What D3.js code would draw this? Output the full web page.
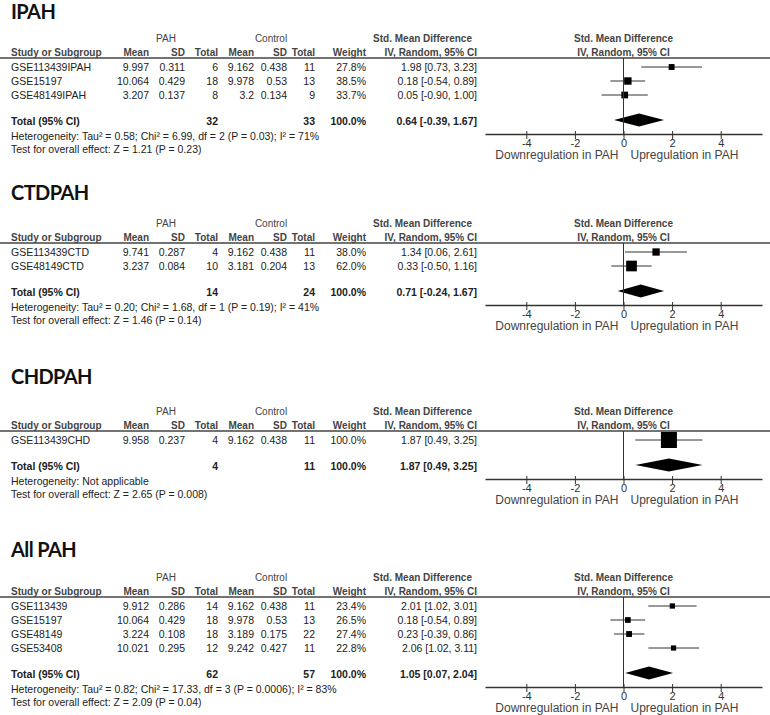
<!DOCTYPE html>
<html>
<head>
<meta charset="utf-8">
<script src="https://cdn.jsdelivr.net/npm/d3@7"></script>
<style>
  body { margin: 0; background: #fff; }
  text { font-family: "Liberation Sans", Arial, sans-serif; font-size: 10.5px; fill: #222; }
  .title { font-family: Lato, "Open Sans", sans-serif; font-weight: bold; font-size: 20px; letter-spacing: -0.6px; fill: #111; }
  .head { font-size: 10px; fill: #444; }
  .bold { font-weight: bold; }
</style>
</head>
<body>
<script>
// study rows: name, PAH mean, SD, n, control mean, SD, n, weight %, SMD, lower, upper
var ipahRows = [
  ["GSE113439IPAH", 9.997, 0.311, 6, 9.162, 0.438, 11, 27.8, 1.98, 0.73, 3.23],
  ["GSE15197", 10.064, 0.429, 18, 9.978, 0.53, 13, 38.5, 0.18, -0.54, 0.89],
  ["GSE48149IPAH", 3.207, 0.137, 8, 3.2, 0.134, 9, 33.7, 0.05, -0.90, 1.00]
];
var ctdRows = [
  ["GSE113439CTD", 9.741, 0.287, 4, 9.162, 0.438, 11, 38.0, 1.34, 0.06, 2.61],
  ["GSE48149CTD", 3.237, 0.084, 10, 3.181, 0.204, 13, 62.0, 0.33, -0.50, 1.16]
];
var chdRows = [
  ["GSE113439CHD", 9.958, 0.237, 4, 9.162, 0.438, 11, 100.0, 1.87, 0.49, 3.25]
];
var allRows = [
  ["GSE113439", 9.912, 0.286, 14, 9.162, 0.438, 11, 23.4, 2.01, 1.02, 3.01],
  ["GSE15197", 10.064, 0.429, 18, 9.978, 0.53, 13, 26.5, 0.18, -0.54, 0.89],
  ["GSE48149", 3.224, 0.108, 18, 3.189, 0.175, 22, 27.4, 0.23, -0.39, 0.86],
  ["GSE53408", 10.021, 0.295, 12, 9.242, 0.427, 11, 22.8, 2.06, 1.02, 3.11]
];

// totals: PAH n, control n, weight, SMD, lower, upper
var ipahTotal = [32, 33, 100.0, 0.64, -0.39, 1.67];
var ctdTotal = [14, 24, 100.0, 0.71, -0.24, 1.67];
var chdTotal = [4, 11, 100.0, 1.87, 0.49, 3.25];
var allTotal = [62, 57, 100.0, 1.05, 0.07, 2.04];

var ipahNotes = ["Heterogeneity: Tau\u00b2 = 0.58; Chi\u00b2 = 6.99, df = 2 (P = 0.03); I\u00b2 = 71%",
                 "Test for overall effect: Z = 1.21 (P = 0.23)"];
var ctdNotes = ["Heterogeneity: Tau\u00b2 = 0.20; Chi\u00b2 = 1.68, df = 1 (P = 0.19); I\u00b2 = 41%",
                "Test for overall effect: Z = 1.46 (P = 0.14)"];
var chdNotes = ["Heterogeneity: Not applicable",
                "Test for overall effect: Z = 2.65 (P = 0.008)"];
var allNotes = ["Heterogeneity: Tau\u00b2 = 0.82; Chi\u00b2 = 17.33, df = 3 (P = 0.0006); I\u00b2 = 83%",
                "Test for overall effect: Z = 2.09 (P = 0.04)"];

var panelTitles = ["IPAH", "CTDPAH", "CHDPAH", "All PAH"];
var tickValues = [-4, -2, 0, 2, 4];
var leftLabel = "Downregulation in PAH";
var rightLabel = "Upregulation in PAH";

var panels = [
  { title: panelTitles[0], rows: ipahRows, total: ipahTotal, notes: ipahNotes },
  { title: panelTitles[1], rows: ctdRows, total: ctdTotal, notes: ctdNotes },
  { title: panelTitles[2], rows: chdRows, total: chdTotal, notes: chdNotes },
  { title: panelTitles[3], rows: allRows, total: allTotal, notes: allNotes }
];

var svg = d3.select("body")
  .append("svg")
  .attr("width", 770)
  .attr("height", 715);

// forest plot scale
var x = d3.scaleLinear().domain([-5.7, 5.7]).range([485, 762]);
var boxSize = d3.scaleLinear().domain([0, 100]).range([2, 16]);

// layout of each panel (header rule and title baseline)
var ruleY = [58, 243, 431, 597];
var titleY = [19, 200, 384, 557];

// right edges of table columns
var colX = [149, 185, 218, 254, 287, 315, 366];
var ciX = 477;

function ci(m, lo, hi) {
  return m.toFixed(2) + " [" + lo.toFixed(2) + ", " + hi.toFixed(2) + "]";
}

function addText(g, str, tx, ty, anchor, cls) {
  return g.append("text")
    .attr("x", tx)
    .attr("y", ty)
    .attr("dy", "0.35em")
    .attr("text-anchor", anchor)
    .attr("class", cls || null)
    .text(str);
}

panels.forEach(function(p, i) {
  var g = svg.append("g");
  var L = ruleY[i];

  g.append("text").attr("class", "title").attr("x", 11).attr("y", titleY[i]).text(p.title);

  // header rows
  addText(g, "PAH", 166, L - 20, "middle", "head");
  addText(g, "Control", 271, L - 20, "middle", "head");
  addText(g, "Std. Mean Difference", 472, L - 20, "end", "head bold");
  addText(g, "Std. Mean Difference", x(0), L - 20, "middle", "head bold");

  addText(g, "Study or Subgroup", 11, L - 6, "start", "head bold");
  ["Mean", "SD", "Total", "Mean", "SD", "Total", "Weight"].forEach(function(h, k) {
    addText(g, h, colX[k], L - 6, "end", "head bold");
  });
  addText(g, "IV, Random, 95% CI", ciX, L - 6, "end", "head bold");
  addText(g, "IV, Random, 95% CI", x(0), L - 6, "middle", "head bold");

  g.append("line")
    .attr("x1", 0).attr("x2", 770)
    .attr("y1", L).attr("y2", L)
    .style("stroke", "#444").style("stroke-width", 1.5);

  // study rows
  var rowY = function(k) { return L + 9 + 14 * k; };
  p.rows.forEach(function(r, k) {
    var y = rowY(k);
    addText(g, r[0], 11, y, "start");
    for (var c = 1; c <= 6; c++) addText(g, String(r[c]), colX[c - 1], y, "end");
    addText(g, r[7].toFixed(1) + "%", colX[6], y, "end");
    addText(g, ci(r[8], r[9], r[10]), ciX, y, "end");

    g.append("line")
      .attr("x1", x(r[9])).attr("x2", x(r[10]))
      .attr("y1", y).attr("y2", y)
      .style("stroke", "#333").style("stroke-width", 1);
    var s = boxSize(r[7]);
    g.append("rect")
      .attr("x", x(r[8]) - s / 2).attr("y", y - s / 2)
      .attr("width", s).attr("height", s)
      .style("fill", "#000");
  });

  // total row
  var ty = rowY(p.rows.length - 1) + 26;
  var t = p.total;
  addText(g, "Total (95% CI)", 11, ty, "start", "bold");
  addText(g, String(t[0]), colX[2], ty, "end", "bold");
  addText(g, String(t[1]), colX[5], ty, "end", "bold");
  addText(g, t[2].toFixed(1) + "%", colX[6], ty, "end", "bold");
  addText(g, ci(t[3], t[4], t[5]), ciX, ty, "end", "bold");

  var dy = ty - 1;
  g.append("path")
    .attr("d", "M" + x(t[4]) + "," + dy + "L" + x(t[3]) + "," + (dy - 6.5) +
               "L" + x(t[5]) + "," + dy + "L" + x(t[3]) + "," + (dy + 6.5) + "Z")
    .style("fill", "#000");

  addText(g, p.notes[0], 11, ty + 15, "start");
  addText(g, p.notes[1], 11, ty + 28, "start");

  // axis
  var ay = ty + 13;
  g.append("line")
    .attr("x1", x(0)).attr("x2", x(0))
    .attr("y1", L).attr("y2", ay)
    .style("stroke", "#333").style("stroke-width", 1);

  var axis = g.append("g")
    .attr("transform", "translate(0," + ay + ")")
    .call(d3.axisBottom(x).tickValues(tickValues).tickSize(5).tickSizeOuter(0)
      .tickFormat(function(d) { return String(d); }));
  axis.select(".domain").style("stroke", "#333").style("stroke-width", 1.3);
  axis.selectAll(".tick line").attr("y1", -3).style("stroke", "#333");
  axis.selectAll(".tick text")
    .attr("y", 5)
    .style("font-family", "Liberation Sans, Arial, sans-serif")
    .style("font-size", "11px")
    .style("fill", "#333");

  g.append("text")
    .attr("x", x(0) - 5).attr("y", ay + 25)
    .attr("text-anchor", "end")
    .style("font-size", "12px").style("fill", "#444")
    .text(leftLabel);
  g.append("text")
    .attr("x", x(0) + 7).attr("y", ay + 25)
    .attr("text-anchor", "start")
    .style("font-size", "12px").style("fill", "#444")
    .text(rightLabel);
});
</script>
</body>
</html>
